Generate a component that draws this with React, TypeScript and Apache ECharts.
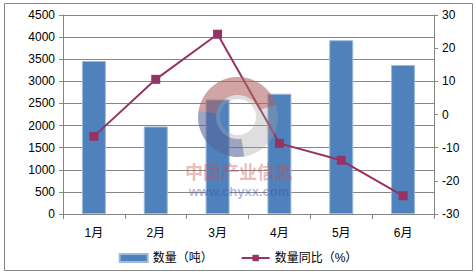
import React, { useEffect, useRef } from "react";
import * as echarts from "echarts";

const categories = ["1月", "2月", "3月", "4月", "5月", "6月"];
const quantity = [3460, 1980, 2590, 2720, 3930, 3370];
const yoy = [-6.6, 10.6, 24.2, -8.7, -13.8, -24.5];
const seriesNames = ["数量（吨）", "数量同比（%）"];
const watermarkCn = "中国产业信息";
const watermarkEn = "www.chyxx.com";

const FONT = "'Liberation Sans', 'Noto Sans CJK SC', sans-serif";

export default function App() {
  const ref = useRef<HTMLDivElement>(null);
  useEffect(() => {
    document.body.style.margin = "0";
    const chart = echarts.init(ref.current!, undefined, { renderer: "svg" });
    chart.setOption({
      animation: false,
      backgroundColor: "#ffffff",
      textStyle: { fontFamily: FONT, color: "#000" },
      grid: { left: 63, right: 42, top: 15, bottom: 62 },
      legend: {
        bottom: 7,
        left: "center",
        itemGap: 28,
        itemWidth: 28,
        itemHeight: 8,
        textStyle: { fontSize: 12, color: "#000", fontFamily: FONT },
        data: [
          { name: seriesNames[0], icon: "rect" },
          { name: seriesNames[1] },
        ],
      },
      xAxis: {
        type: "category",
        data: categories,
        boundaryGap: true,
        axisLine: { lineStyle: { color: "#868686" } },
        axisTick: { show: true, length: 5, lineStyle: { color: "#868686" } },
        axisLabel: { color: "#000", fontSize: 12, margin: 13, fontFamily: FONT },
      },
      yAxis: [
        {
          type: "value",
          min: 0,
          max: 4500,
          interval: 500,
          axisLine: { show: true, lineStyle: { color: "#868686" } },
          axisTick: { show: true, inside: false, length: 4, lineStyle: { color: "#868686" } },
          axisLabel: {
            color: "#000",
            fontSize: 12,
            margin: 8,
            fontFamily: FONT,
            formatter: (v: number) => String(v),
          },
          splitLine: { show: true, lineStyle: { color: "#868686", width: 1 } },
        },
        {
          type: "value",
          min: -30,
          max: 30,
          interval: 10,
          position: "right",
          axisLine: { show: true, lineStyle: { color: "#868686" } },
          axisTick: { show: true, length: 4, lineStyle: { color: "#868686" } },
          axisLabel: {
            color: "#000",
            fontSize: 12,
            margin: 8,
            fontFamily: FONT,
            formatter: (v: number) => String(v),
          },
          splitLine: { show: false },
        },
      ],
      series: [
        {
          name: seriesNames[0],
          type: "bar",
          data: quantity,
          barWidth: 24,
          yAxisIndex: 0,
          itemStyle: { color: "#4F81BD", borderColor: "#9DB9DC", borderWidth: 1 },
          z: 2,
        },
        {
          name: seriesNames[1],
          type: "line",
          data: yoy,
          yAxisIndex: 1,
          symbol: "rect",
          symbolSize: 9,
          lineStyle: { color: "#953463", width: 2 },
          itemStyle: { color: "#953463" },
          z: 3,
        },
      ],
      graphic: [
        {
          type: "rect",
          shape: { x: 4.5, y: 3.5, width: 468, height: 267 },
          style: { fill: "none", stroke: "#868686", lineWidth: 1 },
          silent: true,
          z: 100,
        },
        {
          type: "ring",
          shape: { cx: 238, cy: 117, r: 40, r0: 18 },
          style: { fill: "rgba(160,160,160,0.35)" },
          silent: true,
          z: 100,
        },
        {
          type: "sector",
          shape: { cx: 238, cy: 117, r: 40, r0: 22, startAngle: -Math.PI * 0.95, endAngle: -Math.PI * 0.1 },
          style: { fill: "rgba(190,60,60,0.35)" },
          silent: true,
          z: 101,
        },
        {
          type: "sector",
          shape: { cx: 238, cy: 117, r: 40, r0: 22, startAngle: Math.PI * 0.45, endAngle: Math.PI * 1.05 },
          style: { fill: "rgba(40,60,150,0.35)" },
          silent: true,
          z: 101,
        },
        {
          type: "text",
          x: 239,
          y: 171,
          silent: true,
          z: 102,
          style: {
            text: watermarkCn,
            align: "center",
            verticalAlign: "middle",
            font: "bold 18px 'Noto Sans CJK SC', sans-serif",
            fill: "rgba(200,80,80,0.4)",
          },
        },
        {
          type: "text",
          x: 239,
          y: 191,
          silent: true,
          z: 102,
          style: {
            text: watermarkEn,
            align: "center",
            verticalAlign: "middle",
            font: "bold 13px 'Liberation Sans', sans-serif",
            fill: "rgba(60,80,170,0.4)",
          },
        },
      ],
    });
    return () => chart.dispose();
  }, []);
  return (
    <div
      ref={ref}
      style={{ position: "fixed", left: 0, top: 0, width: 476, height: 276 }}
    />
  );
}
